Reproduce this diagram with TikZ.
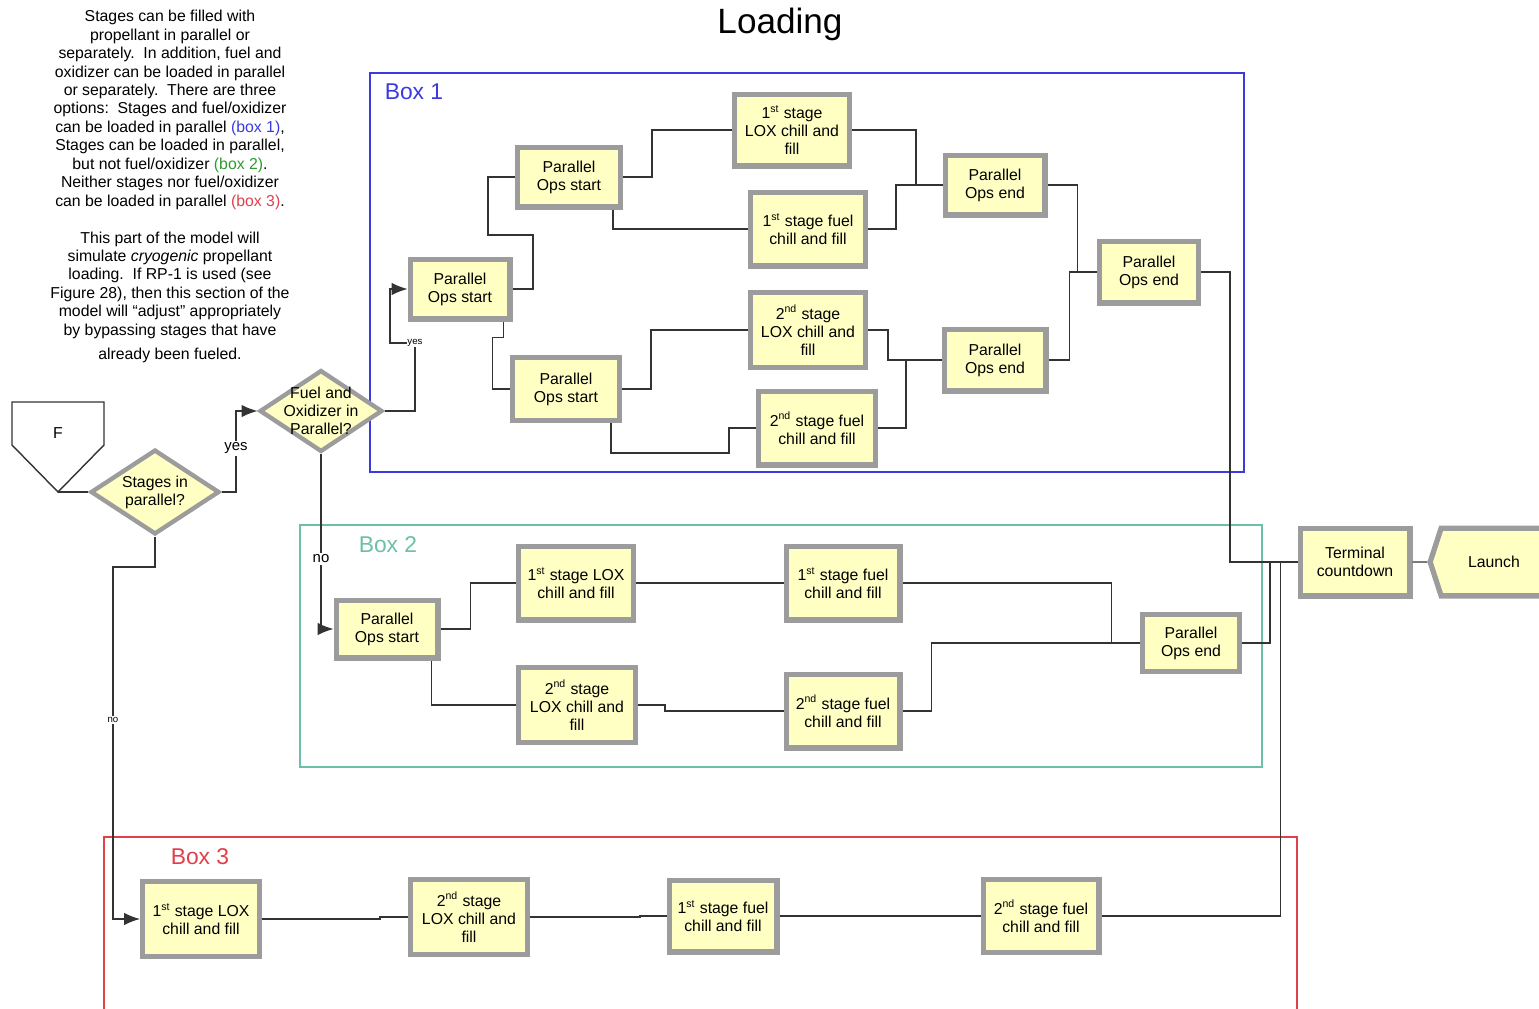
\documentclass[tikz,border=0pt]{standalone}
\usepackage{fontspec}
\setmainfont{Liberation Sans}
\usetikzlibrary{shapes.geometric,shapes.symbols,arrows.meta}

\definecolor{modfill}{HTML}{FFFFC4}
\definecolor{modedge}{HTML}{9C9C9C}
\definecolor{wirecol}{HTML}{333333}
\definecolor{boxblue}{HTML}{3A3AE0}
\definecolor{boxteal}{HTML}{6CBFA8}
\definecolor{boxred}{HTML}{E0404A}
\definecolor{notegreen}{HTML}{2E9B2E}

\begin{document}
\begin{tikzpicture}
[x=0.02cm, y=-0.02cm,%
  module/.style 2 args={draw=modedge, fill=modfill, line width=3pt, align=center,
    inner sep=1pt, minimum width=#1*0.02cm-3pt, minimum height=#2*0.02cm-3pt,
    font=\fontsize{9}{10.2}\selectfont},%
  decision/.style 2 args={diamond, draw=modedge, fill=modfill, line width=2.5pt,
    inner sep=0pt, minimum width=#1*0.02cm-3pt, minimum height=#2*0.02cm-3pt},%
  wire/.style={draw=wirecol, line width=0.65pt},%
  flow/.style={wire, -{Latex[length=9pt,width=7pt]}},%
  tag/.style={fill=white, inner sep=1pt, font=\fontsize{8.5}{10}\selectfont},%
  tinytag/.style={fill=white, inner sep=0.5pt, font=\fontsize{5.5}{6}\selectfont},%
  area/.style={line width=0.9pt},%
  boxlabel/.style={font=\fontsize{13}{15}\selectfont}]
\useasboundingbox (0,0) rectangle (1539,1008);

%% title and note
\node (title) at (780,24) {\fontsize{20}{24}\selectfont Loading};
\node[anchor=north, align=center, font=\fontsize{9}{10.5}\selectfont] (note) at (170,4)
  {Stages can be filled with\\
   propellant in parallel or\\
   separately.\ \ In addition, fuel and\\
   oxidizer can be loaded in parallel\\
   or separately.\ \ There are three\\
   options:\ \ Stages and fuel/oxidizer\\
   can be loaded in parallel \textcolor{boxblue}{(box 1)},\\
   Stages can be loaded in parallel,\\
   but not fuel/oxidizer \textcolor{notegreen}{(box 2)}.\\
   Neither stages nor fuel/oxidizer\\
   can be loaded in parallel \textcolor{boxred}{(box 3)}.\\[10.5pt]
   This part of the model will\\
   simulate \emph{cryogenic} propellant\\
   loading.\ \ If RP-1 is used (see\\
   Figure 28), then this section of the\\
   model will “adjust” appropriately\\
   by bypassing stages that have\\[3pt]
   already been fueled.};

%% the three option boxes
\draw[area, boxblue] (370,73) rectangle (1244,472);
\draw[area, boxteal] (300,525) rectangle (1262,767);
\draw[area, boxred] (104,837) rectangle (1297,1015);
\node[boxlabel, text=boxblue] (lab1) at (414,92) {Box 1};
\node[boxlabel, text=boxteal] (lab2) at (388,545) {Box 2};
\node[boxlabel, text=boxred] (lab3) at (200,857) {Box 3};

%% entry and decisions
\draw[draw=wirecol, line width=0.8pt, fill=white]
  (12,402) -- (104,402) -- (104,445) -- (58,492) -- (12,445) -- cycle;
\node[font=\fontsize{9}{10}\selectfont] (entry) at (58,433) {F};
\coordinate (entrytip) at (58,492);
\node[decision={134}{90}, label={[align=center, font=\fontsize{9}{10.2}\selectfont]center:Stages in\\parallel?}] (stages) at (155,492) {};
\node[decision={128}{87}, label={[align=center, font=\fontsize{9}{10.2}\selectfont]center:Fuel and\\Oxidizer in\\Parallel?}] (fuelox) at (321,411) {};

%% box 1
\node[module={105}{65}] (startA) at (460,289) {Parallel\\Ops start};
\node[module={108}{65}] (startB) at (569,177) {Parallel\\Ops start};
\node[module={112}{68}] (startC) at (566,389) {Parallel\\Ops start};
\node[module={120}{77}] (loxOneA) at (792,130) {1\textsuperscript{st} stage\\LOX chill and\\fill};
\node[module={120}{79}] (fuelOneA) at (808,229) {1\textsuperscript{st} stage fuel\\chill and fill};
\node[module={120}{80}] (loxTwoA) at (808,330) {2\textsuperscript{nd} stage\\LOX chill and\\fill};
\node[module={122}{79}] (fuelTwoA) at (817,428) {2\textsuperscript{nd} stage fuel\\chill and fill};
\node[module={105}{65}] (endA) at (995,185) {Parallel\\Ops end};
\node[module={107}{67}] (endB) at (995,360) {Parallel\\Ops end};
\node[module={104}{67}] (endC) at (1149,272) {Parallel\\Ops end};

%% box 2
\node[module={107}{63}] (startD) at (387,629) {Parallel\\Ops start};
\node[module={120}{79}] (loxOneB) at (576,583) {1\textsuperscript{st} stage LOX\\chill and fill};
\node[module={119}{79}] (fuelOneB) at (843,583) {1\textsuperscript{st} stage fuel\\chill and fill};
\node[module={122}{80}] (loxTwoB) at (577,705) {2\textsuperscript{nd} stage\\LOX chill and\\fill};
\node[module={119}{79}] (fuelTwoB) at (843,711) {2\textsuperscript{nd} stage fuel\\chill and fill};
\node[module={102}{62}] (endD) at (1191,643) {Parallel\\Ops end};

%% box 3
\node[module={122}{80}] (loxOneC) at (201,919) {1\textsuperscript{st} stage LOX\\chill and fill};
\node[module={122}{80}] (loxTwoC) at (469,917) {2\textsuperscript{nd} stage\\LOX chill and\\fill};
\node[module={113}{77}] (fuelOneC) at (723,916) {1\textsuperscript{st} stage fuel\\chill and fill};
\node[module={121}{78}] (fuelTwoC) at (1041,916) {2\textsuperscript{nd} stage fuel\\chill and fill};

%% exit
\node[module={115}{73}] (countdown) at (1355,562) {Terminal\\countdown};
\node[module={122}{73}, signal, signal to=west, signal pointer angle=144] (launch) at (1494,562) {Launch};

%% decisions
\draw[wire] (entrytip) -- (stages.west);
\draw[flow] (stages.east) -- (236,492) |- node[tag, pos=0.27] {yes} (fuelox.west);
\draw[flow] (fuelox.east) -| (415,343) node[tinytag] {yes} -- (390,343) |- (startA.west);
\draw[flow] (fuelox.south) |- node[tag, pos=0.3] {no} (startD.west);
\draw[flow] (stages.south) -- (155,567) -| (113,720) node[tinytag] {no} |- (loxOneC.west);

%% box 1 wiring
\draw[wire] (startA.east) -| (533,235) -- (488,235) |- (startB.west);
\draw[wire] ([xshift=-.18cm]startA.south east) -- ++(0,16) -- ++(-11,0) |- (startC.west);
\draw[wire] (startB.east) -- ++(29,0) |- (loxOneA.west);
\draw[wire] ([xshift=-.2cm]startB.south east) |- (fuelOneA.west);
\draw[wire] (startC.east) -- ++(29,0) |- (loxTwoA.west);
\draw[wire] ([xshift=-.22cm]startC.south east) -- ++(0,30) -- ++(118,0) |- (fuelTwoA.west);
\draw[wire] (loxOneA.east) -- ++(64,0) |- (endA.west);
\draw[wire] (fuelOneA.east) -- ++(28,0) |- (endA.west);
\draw[wire] (loxTwoA.east) -- ++(20,0) |- (endB.west);
\draw[wire] (fuelTwoA.east) -- ++(28,0) |- (endB.west);
\draw[wire] (endA.east) -- ++(30,0) |- (endC.west);
\draw[wire] (endB.east) -- ++(21,0) |- (endC.west);
\draw[wire] (endC.east) -- ++(29,0) |- (countdown.west);

%% box 2 wiring
\draw[wire] (startD.east) -- ++(30,0) |- (loxOneB.west);
\draw[wire] ([xshift=-.18cm]startD.south east) |- (loxTwoB.west);
\draw[wire] (loxOneB) -- (fuelOneB);
\draw[wire] (fuelOneB.east) -- ++(209,0) |- (endD.west);
\draw[wire] (loxTwoB.east) -- ++(27,0) |- (fuelTwoB.west);
\draw[wire] (fuelTwoB.east) -- ++(29,0) |- (endD.west);
\draw[wire] (endD.east) -- ++(28,0) |- (countdown.west);

%% box 3 wiring
\draw[wire] (loxOneC.east) -- ++(118,0) |- (loxTwoC.west);
\draw[wire] (loxTwoC.east) -- ++(110,0) |- (fuelOneC.west);
\draw[wire] (fuelOneC) -- (fuelTwoC);
\draw[wire] (fuelTwoC.east) -- ++(179,0) |- (countdown.west);

\draw[wire] (countdown) -- (launch);
\end{tikzpicture}
\end{document}
